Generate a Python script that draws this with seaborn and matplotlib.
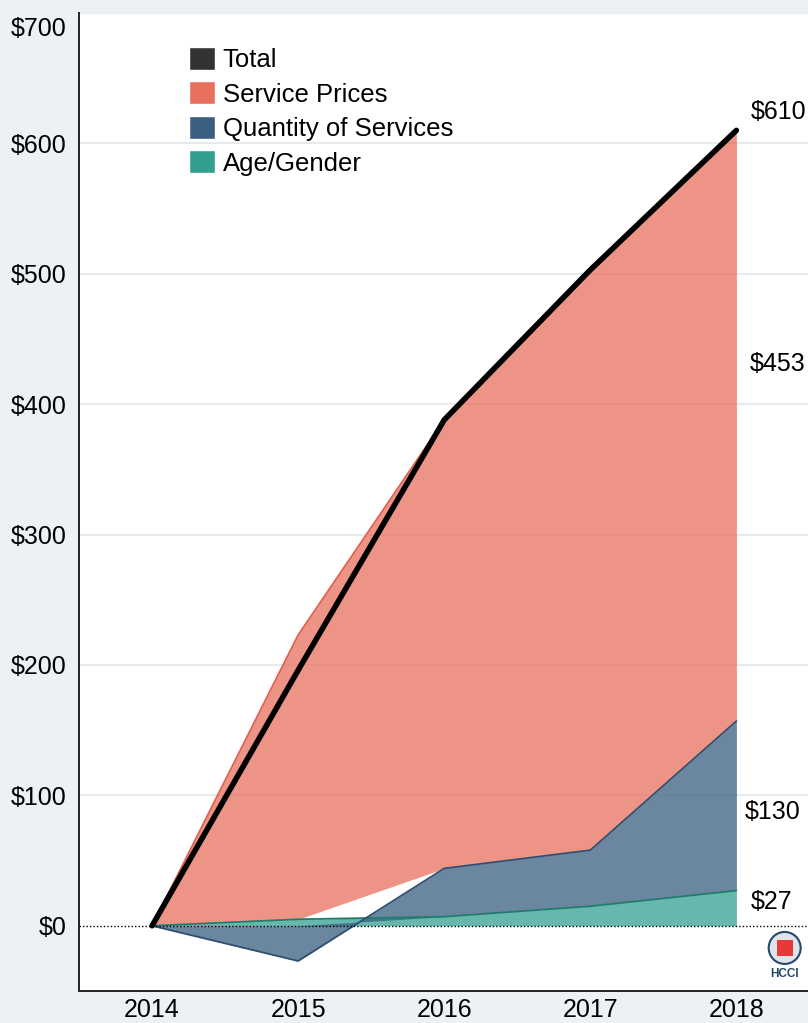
"""
Stacked area chart: drivers of spending growth 2014-2018.
"""
import numpy as np
import pandas as pd
import matplotlib
matplotlib.use("Agg")
import matplotlib.pyplot as plt
import matplotlib.transforms as mtransforms
from matplotlib.patches import Ellipse, Rectangle, Patch
import seaborn as sns

# data (dollars)
years = [2014, 2015, 2016, 2017, 2018]
age_gender = [0, 5, 7, 15, 27]
quantity = [0, -27, 37, 43, 130]
service_prices = [0, 218, 344, 445, 453]
total = [0, 196, 388, 503, 610]

y_ticks = [0, 100, 200, 300, 400, 500, 600, 700]

series_names = ["Age/Gender", "Quantity of Services", "Service Prices"]
fill_colors = {"Age/Gender": "#31a08f", "Quantity of Services": "#3a5f80",
               "Service Prices": "#e8705e"}
edge_colors = {"Age/Gender": "#1f7d70", "Quantity of Services": "#2f5070",
               "Service Prices": "#e0604f"}

sns.set_theme(style="white")
plt.rcParams["font.family"] = ["Liberation Sans", "DejaVu Sans"]
plt.rcParams["text.color"] = "black"

fig = plt.figure(figsize=(8.08, 10.23), dpi=100, facecolor="#edf1f4")
ax = fig.add_axes([0.0978, 0.0313, 0.9022, 0.956])
ax.set_facecolor("white")

x = np.array(years, dtype=float)
pos_base = np.zeros(len(years))
neg_base = np.zeros(len(years))
for name, vals in zip(series_names, [age_gender, quantity, service_prices]):
    v = np.array(vals, dtype=float)
    lower = np.where(v >= 0, pos_base, neg_base)
    upper = lower + v
    ax.fill_between(x, lower, upper, color=fill_colors[name], alpha=0.75,
                    linewidth=0, zorder=2)
    sns.lineplot(x=x, y=upper, ax=ax, color=edge_colors[name], linewidth=1.3,
                 zorder=3, legend=False)
    pos_base = np.where(v >= 0, upper, pos_base)
    neg_base = np.where(v < 0, upper, neg_base)

# total line
df_total = pd.DataFrame({"year": years, "total": total})
sns.lineplot(data=df_total, x="year", y="total", ax=ax, color="black",
             linewidth=4, zorder=5, legend=False, solid_capstyle="round",
             solid_joinstyle="round")

# zero line
ax.axhline(0, color="black", linestyle=(0, (1, 1.5)), linewidth=1, zorder=4)

# grid
for t in y_ticks[1:]:
    ax.axhline(t, color="#e3e6ea", linewidth=1.2, zorder=1)

ax.set_xlim(2013.5, 2018.49)
ax.set_ylim(-50, 700)
ax.set_xticks(years)
ax.set_xticklabels([str(y) for y in years], fontsize=18)
ax.set_yticks(y_ticks)
ax.set_yticklabels([f"${t}" for t in y_ticks], fontsize=18)
ax.tick_params(axis="both", length=0, colors="black")
ax.tick_params(axis="y", pad=9)
ax.tick_params(axis="x", pad=5)
# top label nudged down, as in the original
shift = mtransforms.ScaledTranslation(0, -14 / 100, fig.dpi_scale_trans)
for lab in ax.get_yticklabels():
    if lab.get_text() == "$700":
        lab.set_transform(lab.get_transform() + shift)
ax.set_xlabel("")
ax.set_ylabel("")
for side in ["top", "right"]:
    ax.spines[side].set_visible(False)
for side in ["left", "bottom"]:
    ax.spines[side].set_color("#222222")
    ax.spines[side].set_linewidth(1.4)

# value labels
ax.text(2018.1, total[-1] + 14, f"${total[-1]}", fontsize=18, va="center")
ax.text(2018.09, 431, f"${service_prices[-1]}", fontsize=18, va="center")
ax.text(2018.055, 87, f"${quantity[-1]}", fontsize=18, va="center")
ax.text(2018.1, 18, f"${age_gender[-1]}", fontsize=18, va="center")

# legend
handles = [Patch(facecolor="#333333", label="Total"),
           Patch(facecolor="#e8705e", label="Service Prices"),
           Patch(facecolor="#3a5f80", label="Quantity of Services"),
           Patch(facecolor="#31a08f", label="Age/Gender")]
leg = ax.legend(handles=handles, loc="upper left", bbox_to_anchor=(0.137, 0.976),
                frameon=False, fontsize=18.5, handlelength=1.0, handleheight=1.0,
                handletextpad=0.3, labelspacing=0.36, borderaxespad=0)
for t in leg.get_texts():
    t.set_color("black")

# HCCI logo
lx, ly = 0.968, 0.044
w_px, h_px = 729, 978
ax.add_patch(Ellipse((lx, ly), 32 / w_px, 32 / h_px, transform=ax.transAxes,
                     facecolor="#dfe3ea", edgecolor="#26476e", linewidth=1.5,
                     zorder=6))
ax.add_patch(Rectangle((lx - 8 / w_px, ly - 8 / h_px), 16 / w_px, 16 / h_px,
                       transform=ax.transAxes, facecolor="#e8393a",
                       edgecolor="none", zorder=7))
ax.text(lx, ly - 26 / h_px, "HCCI", transform=ax.transAxes, ha="center",
        va="center", fontsize=8.5, fontweight="bold", color="#26476e", zorder=7)

fig.savefig("out.png", dpi=100, facecolor=fig.get_facecolor())
